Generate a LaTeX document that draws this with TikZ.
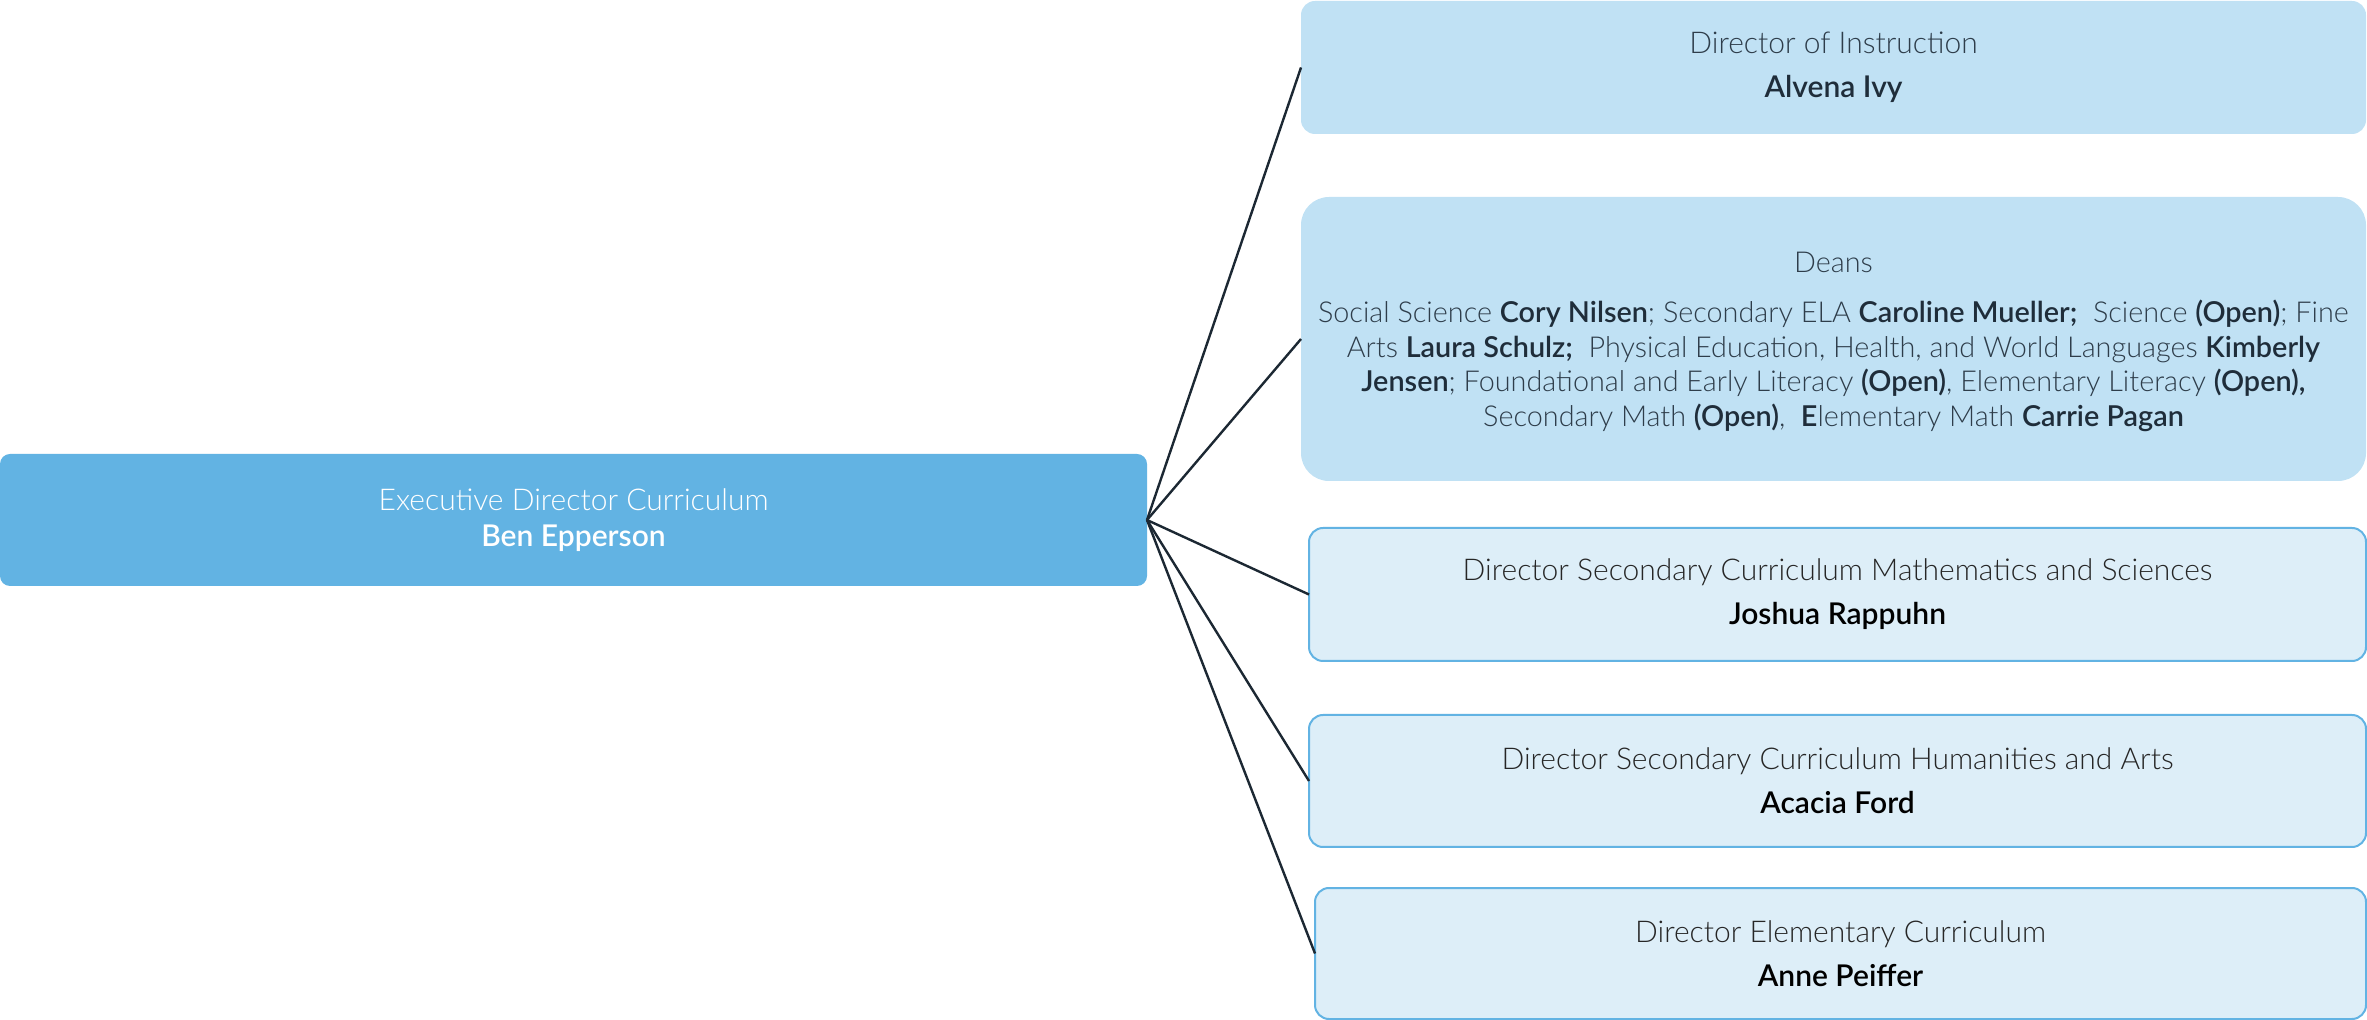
\documentclass[tikz,border=0pt]{standalone}
\usepackage{fontspec}
\setmainfont{Lato Light}[BoldFont={Lato Semibold}]
\definecolor{rootfill}{HTML}{62B3E3}
\definecolor{topfill}{HTML}{C0E1F4}
\definecolor{lowfill}{HTML}{DDEEF8}
\definecolor{lowline}{HTML}{62B3E3}
\definecolor{linkc}{HTML}{1C2833}
\definecolor{toptext}{HTML}{2E3D4A}
\definecolor{topname}{HTML}{1F2D3A}
\begin{document}
\begin{tikzpicture}[x=0.5pt,y=-0.5pt,
  every node/.style={inner sep=0pt, outer sep=0pt, align=center, font=\fontsize{15}{18}\selectfont},
  rootbox/.style={fill=rootfill, rounded corners=5pt, text=white},
  topbox/.style={fill=topfill, rounded corners=7pt, text=toptext},
  deansbox/.style={fill=topfill, rounded corners=14pt},
  deanstext/.style={text=toptext, font=\fontsize{14.4}{17.4}\selectfont},
  lowbox/.style={fill=lowfill, draw=lowline, line width=1pt, rounded corners=7pt, text=black!85},
  link/.style={draw=linkc, line width=1.2pt}]
\useasboundingbox (0,0) rectangle (2367,1020);
\node[rootbox, minimum width=573.5pt, minimum height=66pt] (root) at (573.5,520)
  {Executive Director Curriculum\\[0pt]\textbf{Ben Epperson}};
\node[topbox, minimum width=532.5pt, minimum height=66.5pt] (doi) at (1833.5,67.5)
  {Director of Instruction\\[4pt]\textcolor{topname}{\textbf{Alvena Ivy}}};
\node[deansbox, minimum width=532.5pt, minimum height=142pt] (deans) at (1833.5,339) {};
\node[deanstext] (deanslbl) at (1833.5,342)
  {Deans\\[7.5pt]
   Social Science \textcolor{topname}{\textbf{Cory Nilsen}}; Secondary ELA \textcolor{topname}{\textbf{Caroline Mueller;}}\ \ Science \textcolor{topname}{\textbf{(Open)}}; Fine\\
   Arts \textcolor{topname}{\textbf{Laura Schulz;}}\ \ Physical Education, Health, and World Languages \textcolor{topname}{\textbf{Kimberly}}\\
   \textcolor{topname}{\textbf{Jensen}}; Foundational and Early Literacy \textcolor{topname}{\textbf{(Open)}}, Elementary Literacy \textcolor{topname}{\textbf{(Open),}}\\
   Secondary Math \textcolor{topname}{\textbf{(Open)}},\ \ \textcolor{topname}{\textbf{E}}lementary Math \textcolor{topname}{\textbf{Carrie Pagan}}};
\node[lowbox, minimum width=528.5pt, minimum height=66.5pt] (math) at (1837.5,594.5)
  {Director Secondary Curriculum Mathematics and Sciences\\[4pt]\textcolor{black}{\textbf{Joshua Rappuhn}}};
\node[lowbox, minimum width=528.5pt, minimum height=66pt] (hum) at (1837.5,781)
  {Director Secondary Curriculum Humanities and Arts\\[4pt]\textcolor{black}{\textbf{Acacia Ford}}};
\node[lowbox, minimum width=525.5pt, minimum height=65.5pt] (elem) at (1840.5,953.5)
  {Director Elementary Curriculum\\[4pt]\textcolor{black}{\textbf{Anne Peiffer}}};
\foreach \t in {doi,deans,math,hum,elem}
  \draw[link] (root.east) -- (\t.west);
\end{tikzpicture}
\end{document}
